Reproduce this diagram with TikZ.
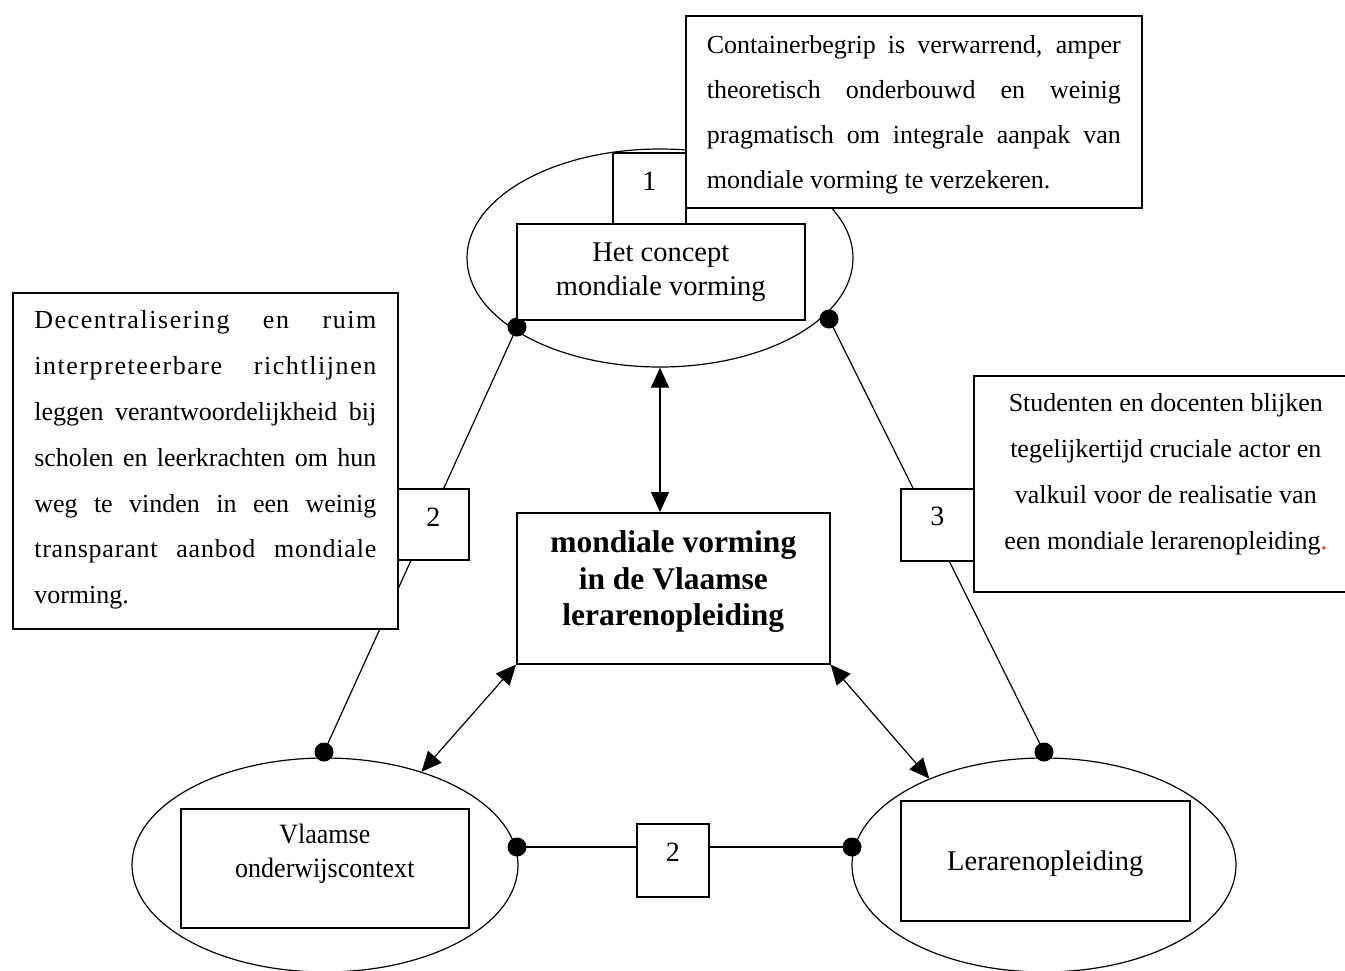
\documentclass[tikz,border=0pt]{standalone}
\usepackage{fontspec}
\setmainfont{Liberation Serif}
\newfontfamily\spacedA[LetterSpace=6]{Liberation Serif}
\newfontfamily\spacedB[LetterSpace=3]{Liberation Serif}
\newfontfamily\condfont[FakeStretch=0.93]{Liberation Serif}
\usetikzlibrary{shapes.geometric,arrows.meta}
\definecolor{dotred}{RGB}{225,45,35}
\newcommand\tbx[3]{\parbox[c][#2][t]{#1}{#3}}
\begin{document}
\begin{tikzpicture}[x=1pt,y=-1pt,
  ell/.style={draw, ellipse, line width=1.2pt, inner sep=0pt},
  tb/.style={draw, line width=1.6pt, fill=white, inner sep=0pt, anchor=north west},
  dot/.style={circle, fill=black, inner sep=0pt, minimum size=19pt},
  conn/.style={line width=1.2pt},
  dbl/.style={line width=1.2pt, {Triangle[length=20pt,width=18pt]}-{Triangle[length=20pt,width=18pt]}}]

\useasboundingbox (0,0) rectangle (1345,970);

% ellipses
\node[ell, minimum width=386pt, minimum height=218pt] (E1) at (660,258) {};
\node[ell, minimum width=386pt, minimum height=214pt] (E2) at (325,865) {};
\node[ell, minimum width=384pt, minimum height=214pt] (E3) at (1044,865) {};

% dots
\node[dot] (t1) at (517,327) {};
\node[dot] (t2) at (829,319) {};
\node[dot] (l1) at (324,752) {};
\node[dot] (l2) at (517,847) {};
\node[dot] (r1) at (1044,752) {};
\node[dot] (r2) at (852,847) {};

% connectors
\draw[conn] (t1.center) -- (l1.center);
\draw[conn] (t2.center) -- (r1.center);
\draw[conn] (l2.center) -- (r2.center);

% top right text box
\node[tb, inner xsep=21pt] (C1) at (685,15) {\tbx{414pt}{192pt}{\fontsize{26}{45}\selectfont
\rule{0pt}{38pt}\makebox[414pt][s]{Containerbegrip is verwarrend, amper}\par
\makebox[414pt][s]{theoretisch onderbouwd en weinig}\par
\makebox[414pt][s]{pragmatisch om integrale aanpak van}\par
mondiale vorming te verzekeren.}};

% number box 1
\node[tb] (B1) at (612,152) {\tbx{73pt}{71pt}{\centering\fontsize{28}{34}\selectfont\rule{0pt}{37.5pt}1}};

% box inside top ellipse
\node[tb] (K1) at (516,223) {\tbx{288pt}{96pt}{\centering\fontsize{28.5}{34}\selectfont\rule{0pt}{38pt}Het concept\\mondiale vorming}};

% left text box
\node[tb, inner xsep=21.5pt] (D) at (12,292) {\tbx{342pt}{336pt}{\fontsize{26}{45.8}\selectfont
\rule{0pt}{36pt}\makebox[342pt][s]{\spacedA Decentralisering en ruim}\par
\makebox[342pt][s]{\spacedA interpreteerbare richtlijnen}\par
\makebox[342pt][s]{leggen verantwoordelijkheid bij}\par
\makebox[342pt][s]{scholen en leerkrachten om hun}\par
\makebox[342pt][s]{weg te vinden in een weinig}\par
\makebox[342pt][s]{\spacedB transparant aanbod mondiale}\par
vorming.}};

% number box 2 (left)
\node[tb] (B2) at (397,488) {\tbx{71pt}{71pt}{\centering\fontsize{28}{34}\selectfont\rule{0pt}{37.5pt}2}};

% number box 3
\node[tb] (B3) at (900,488) {\tbx{73pt}{72pt}{\centering\fontsize{28}{34}\selectfont\rule{0pt}{37pt}3}};

% right text box
\node[tb] (S) at (973,375) {\tbx{384pt}{216pt}{\centering\fontsize{26}{46}\selectfont\rule{0pt}{36pt}Studenten en docenten blijken\\tegelijkertijd cruciale actor en\\valkuil voor de realisatie van\\een mondiale lerarenopleiding\textcolor{dotred}{.}}};

% central box
\node[tb] (C) at (516,512) {\tbx{313pt}{151pt}{\centering\bfseries\fontsize{31.5}{36.5}\selectfont\rule{0pt}{40pt}mondiale vorming\\in de Vlaamse\\lerarenopleiding}};

% boxes inside bottom ellipses
\node[tb] (K2) at (180,808) {\tbx{288pt}{119pt}{\centering\condfont\fontsize{28}{34}\selectfont\rule{0pt}{35pt}Vlaamse\\onderwijscontext}};
\node[tb] (K3) at (900,800) {\tbx{289pt}{120pt}{\centering\fontsize{28.5}{34}\selectfont\rule{0pt}{70pt}Lerarenopleiding}};

% number box 2 (bottom)
\node[tb] (Bb) at (636,823) {\tbx{72pt}{73pt}{\centering\fontsize{28}{34}\selectfont\rule{0pt}{38pt}2}};

% double arrows
\draw[dbl] (E1.south) -- (E1.south |- C.north);
\draw[dbl] (C.south west) -- (E2.44);
\draw[dbl] (C.south east) -- (E3.143);

\end{tikzpicture}
\end{document}
